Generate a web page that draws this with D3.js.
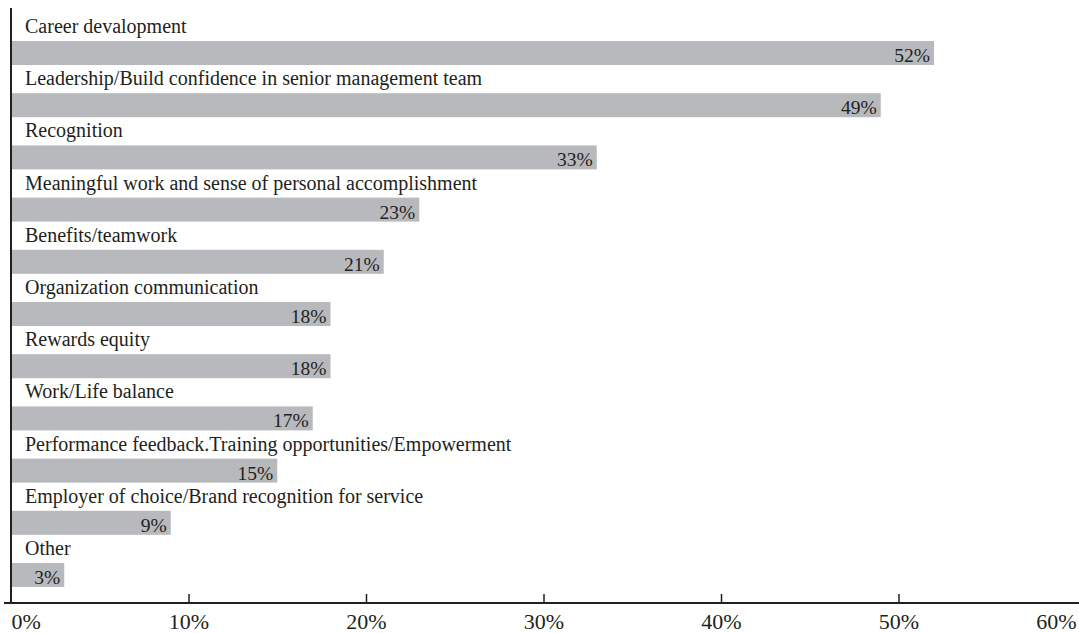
<!DOCTYPE html>
<html>
<head>
<meta charset="utf-8">
<script src="https://cdn.jsdelivr.net/npm/d3@7/dist/d3.min.js"></script>
<style>
  html, body { margin: 0; padding: 0; background: #fff; }
  svg { display: block; font-family: "Liberation Serif", "Times New Roman", serif; }
</style>
</head>
<body>
<svg id="chart" width="1079" height="633"></svg>
<script>
// Survey answers, in display order (top to bottom)
const categories = [
  "Career devalopment",
  "Leadership/Build confidence in senior management team",
  "Recognition",
  "Meaningful work and sense of personal accomplishment",
  "Benefits/teamwork",
  "Organization communication",
  "Rewards equity",
  "Work/Life balance",
  "Performance feedback.Training opportunities/Empowerment",
  "Employer of choice/Brand recognition for service",
  "Other"
];
const values = [52, 49, 33, 23, 21, 18, 18, 17, 15, 9, 3];
const tickValues = [0, 10, 20, 30, 40, 50, 60];

const W = 1079, H = 633;
const ink = "#231f20";
const barFill = "#b8b9bc";
const serif = "'Liberation Serif', 'Times New Roman', serif";

const svg = d3.select("#chart");

const x = d3.scaleLinear().domain([0, 60]).range([11, 1076]);

// one band per answer: label on top, bar below it
const y = d3.scaleBand().domain(categories).range([15, 15 + 52.2 * categories.length]).padding(0);
const barTop = 26, barH = 24;

const rows = svg.append("g").selectAll("g")
  .data(categories.map((c, i) => ({ name: c, value: values[i] })))
  .join("g")
  .attr("transform", d => `translate(0,${y(d.name)})`);

rows.append("rect")
  .attr("x", x(0))
  .attr("y", barTop)
  .attr("width", d => x(d.value) - x(0))
  .attr("height", barH)
  .attr("fill", barFill);

rows.append("text")
  .attr("x", 25)
  .attr("y", barTop - 8)
  .attr("font-family", serif)
  .attr("font-size", 20)
  .attr("fill", ink)
  .text(d => d.name);

rows.append("text")
  .attr("x", d => x(d.value) - 4)
  .attr("y", barTop + barH - 3)
  .attr("text-anchor", "end")
  .attr("font-family", serif)
  .attr("font-size", 19.5)
  .attr("fill", ink)
  .text(d => d.value + "%");

// vertical axis line
svg.append("line")
  .attr("x1", x(0)).attr("x2", x(0))
  .attr("y1", 8).attr("y2", 603)
  .attr("stroke", ink).attr("stroke-width", 2);

// horizontal axis with inward ticks
const axisY = 603;
const xAxis = d3.axisBottom(x)
  .tickValues(tickValues)
  .tickFormat(d => d + "%")
  .tickSize(-9)
  .tickSizeOuter(0)
  .tickPadding(10);

const gx = svg.append("g")
  .attr("transform", `translate(0,${axisY})`)
  .call(xAxis);

gx.select(".domain").remove();
gx.insert("line", ":first-child")
  .attr("x1", 4).attr("x2", W)
  .attr("y1", 0).attr("y2", 0)
  .attr("stroke", ink).attr("stroke-width", 2);

gx.selectAll(".tick line").attr("stroke", ink).attr("stroke-width", 1.5);
gx.selectAll(".tick text")
  .attr("font-family", serif)
  .attr("font-size", 22)
  .attr("fill", ink);

// keep the end labels inside the frame
gx.selectAll(".tick").filter(d => d === 0).select("text").attr("text-anchor", "start");
gx.selectAll(".tick").filter(d => d === 60).select("text").attr("text-anchor", "end");
gx.selectAll(".tick").filter(d => d === 0 || d === 60).select("line").remove();
</script>
</body>
</html>
